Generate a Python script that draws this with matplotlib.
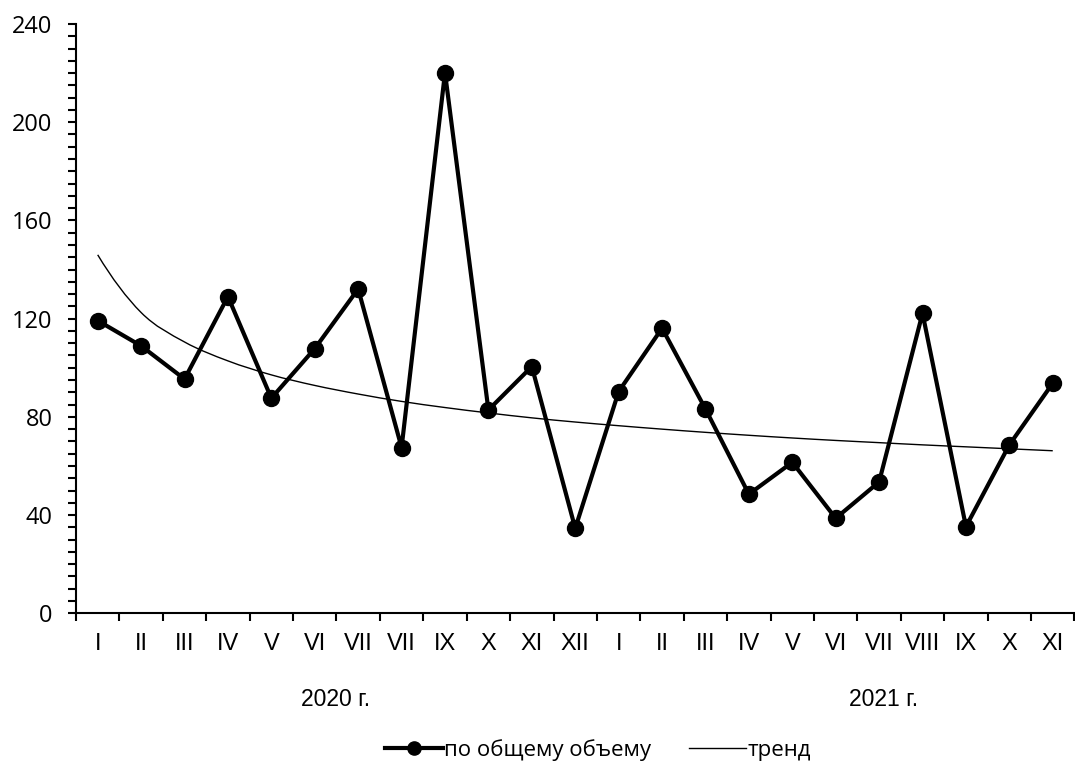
import matplotlib
matplotlib.use("Agg")
import matplotlib.pyplot as plt
from matplotlib.path import Path
from matplotlib.patches import PathPatch
from matplotlib.lines import Line2D
from matplotlib.ticker import MultipleLocator, FixedLocator, NullFormatter

# months, 2020 I..XII and 2021 I..XI (label "VII" repeated as in the source)
months = ["I", "II", "III", "IV", "V", "VI", "VII", "VII", "IX", "X", "XI", "XII",
          "I", "II", "III", "IV", "V", "VI", "VII", "VIII", "IX", "X", "XI"]
volume = [119.2, 108.9, 95.4, 129.0, 87.6, 107.8, 132.1, 67.5, 220.2, 82.8, 100.5, 34.6,
          90.3, 116.1, 83.2, 48.5, 61.5, 38.7, 53.5, 122.2, 35.3, 68.6, 93.7]
trend = [146.0, 122.5, 110.5, 102.8, 97.1, 92.8, 89.3, 86.3, 83.8, 81.6, 79.6, 77.9,
         76.4, 75.0, 73.7, 72.5, 71.4, 70.4, 69.5, 68.6, 67.8, 67.0, 66.2]
years = ["2020 г.", "2021 г."]

fig = plt.figure(figsize=(10.75, 7.67), dpi=100)
ax = fig.add_axes([76/1075, 1 - 613.3/767, 1 - 76/1075 - 0.0005, (613.3 - 24)/767])

x = list(range(len(months)))
ax.plot(x, volume, color="black", lw=3, marker="o", ms=11.5, label="по общему объему", zorder=3)

# smooth trend line: catmull-rom through the read points, drawn as bezier path
pts = list(zip(x, trend))
n = len(pts)
# phantom end points (quadratic extrapolation) so the ends keep their curvature
first = tuple(3 * a - 3 * b + c for a, b, c in zip(pts[0], pts[1], pts[2]))
last = tuple(3 * a - 3 * b + c for a, b, c in zip(pts[-1], pts[-2], pts[-3]))
ext = [first] + pts + [last]
verts = [pts[0]]
codes = [Path.MOVETO]
for i in range(1, n):
    p0, p1, p2, p3 = ext[i - 1], ext[i], ext[i + 1], ext[i + 2]
    c1 = (p1[0] + (p2[0] - p0[0]) / 6, p1[1] + (p2[1] - p0[1]) / 6)
    c2 = (p2[0] - (p3[0] - p1[0]) / 6, p2[1] - (p3[1] - p1[1]) / 6)
    verts += [c1, c2, p2]
    codes += [Path.CURVE4] * 3
ax.add_patch(PathPatch(Path(verts, codes), fill=False, edgecolor="black", lw=1, zorder=2))

ax.set_xlim(-0.5, len(months) - 0.5)
ax.set_ylim(0, 240)

for s in ["top", "right"]:
    ax.spines[s].set_visible(False)
for s in ["left", "bottom"]:
    ax.spines[s].set_linewidth(1.5)

# y axis
ax.yaxis.set_major_locator(MultipleLocator(40))
ax.yaxis.set_minor_locator(MultipleLocator(5))
ax.tick_params(axis="y", which="both", direction="out", length=6, width=1.5, pad=11)
for lab in ax.get_yticklabels():
    lab.set_fontfamily("Open Sans")
    lab.set_fontsize(17)

# x axis: ticks between categories, labels at centres
ax.xaxis.set_major_locator(FixedLocator([i - 0.5 for i in range(len(months) + 1)]))
ax.xaxis.set_major_formatter(NullFormatter())
ax.xaxis.set_minor_locator(FixedLocator(x))
ax.set_xticklabels(months, minor=True)
ax.tick_params(axis="x", which="major", direction="out", length=6, width=1.5)
ax.tick_params(axis="x", which="minor", length=0, pad=14)
for lab in ax.get_xticklabels(minor=True):
    lab.set_fontfamily("Liberation Sans")
    lab.set_fontsize(17)

fig.text(336/1075, 1 - 700/767, years[0], ha="center", va="center",
         fontfamily="Liberation Sans", fontsize=16.5)
fig.text(884/1075, 1 - 700/767, years[1], ha="center", va="center",
         fontfamily="Liberation Sans", fontsize=16.5)

handles = [Line2D([], [], color="black", lw=3, marker="o", ms=9.5),
           Line2D([], [], color="black", lw=1)]
fig.legend(handles, ["по общему объему", "тренд"], loc="center",
           bbox_to_anchor=(598/1075, 1 - 750/767), ncol=2, frameon=False,
           prop={"family": "Open Sans", "size": 16}, handlelength=2.6, handletextpad=0.05,
           columnspacing=1.7)

fig.savefig("out.png", dpi=100)
